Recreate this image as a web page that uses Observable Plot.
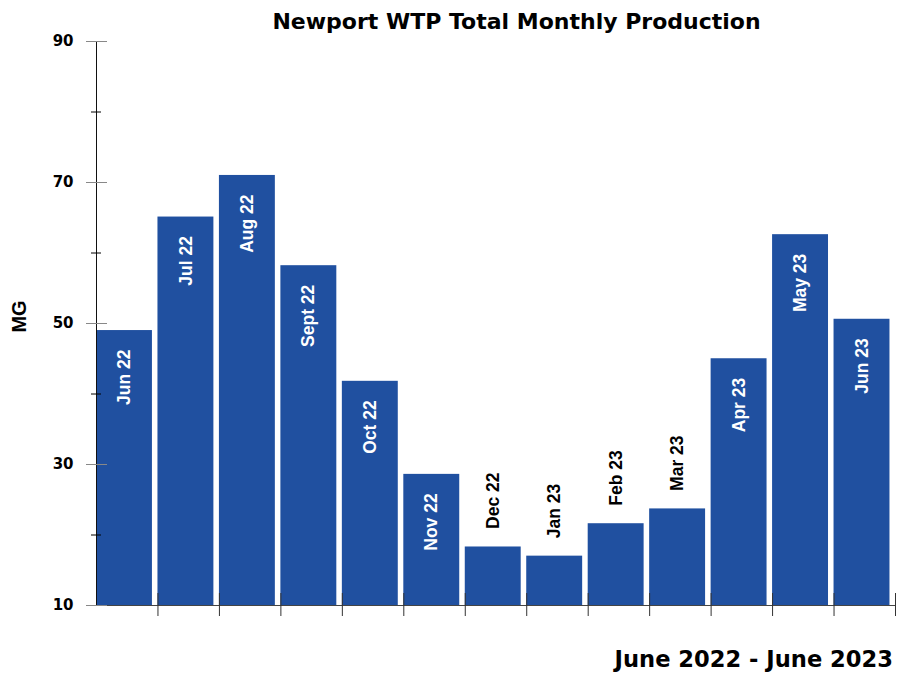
<!DOCTYPE html>
<html>
<head>
<meta charset="utf-8">
<script src="https://cdn.jsdelivr.net/npm/d3@7"></script>
<script src="https://cdn.jsdelivr.net/npm/@observablehq/plot@0.6"></script>
<style>
  body { margin: 0; background: #fff; width: 913px; height: 673px; overflow: hidden; }
  #title { height: 34px; box-sizing: border-box; padding-top: 11px; padding-left: 120px;
           font: bold 22px/22px "DejaVu Sans"; text-align: center; color: #000; white-space: nowrap; }
  #chart svg { display: block; }
  #footer { height: 43px; box-sizing: border-box; padding-top: 18px; padding-right: 20px;
            font: bold 22.6px/23px "DejaVu Sans"; text-align: right; color: #000; white-space: nowrap; }
</style>
</head>
<body>
<div id="title">Newport WTP Total Monthly Production</div>
<div id="chart"></div>
<div id="footer">June 2022 - June 2023</div>
<script>
const months = ["Jun 22","Jul 22","Aug 22","Sept 22","Oct 22","Nov 22","Dec 22","Jan 23","Feb 23","Mar 23","Apr 23","May 23","Jun 23"];
const production = [49.0, 65.1, 71.0, 58.2, 41.8, 28.6, 18.3, 17.0, 21.6, 23.7, 45.0, 62.6, 50.6];
const yDomain = [10, 90];
const majorTicks = [10, 30, 50, 70, 90];
const minorTicks = [20, 40, 60, 80];
const yLabel = "MG";
const barColor = "#2050a0";

const data = months.map((m, i) => ({month: m, value: production[i]}));

const W = 913, H = 596, ML = 96, MR = 18, MT = 7, MB = 25;
const pad = 0.09;
const step = (W - ML - MR) / months.length;
const bw = step * (1 - pad);

const plot = Plot.plot({
  width: W, height: H,
  marginLeft: ML, marginRight: MR, marginTop: MT, marginBottom: MB,
  style: {background: "white", overflow: "visible", fontFamily: "DejaVu Sans"},
  x: {domain: months, paddingInner: pad, paddingOuter: pad / 2, align: 0, round: false, axis: null},
  y: {domain: yDomain, axis: null},
  marks: [
    Plot.barY(data, {x: "month", y1: () => yDomain[0], y2: "value", fill: barColor}),
    Plot.frame({anchor: "left", stroke: "#111"}),
    Plot.frame({anchor: "bottom", stroke: "#444"}),
    Plot.ruleX(months, {x: d => d, y1: () => yDomain[0], y2: () => yDomain[0],
      insetTop: -12, insetBottom: -11, dx: step - bw / 2, stroke: "#333"}),
    Plot.axisY(majorTicks, {tickSize: 21, dx: 11, stroke: "#888", tickFormat: () => "", label: null}),
    Plot.axisY(minorTicks, {tickSize: 10, dx: 5, stroke: "#000", tickFormat: () => "", label: null}),
    Plot.axisY(majorTicks, {tickSize: 0, tickPadding: 23, fontSize: 15, fontWeight: "bold",
      fill: "#000", label: null, fontFamily: "DejaVu Sans"}),
    Plot.text(data.filter(d => d.value >= 25), {x: "month", y: "value", text: "month",
      rotate: -90, textAnchor: "end", lineAnchor: "middle", dy: 19,
      fill: "white", fontSize: 17.5, fontWeight: "bold", fontFamily: "Liberation Sans"}),
    Plot.text(data.filter(d => d.value < 25), {x: "month", y: "value", text: "month",
      rotate: -90, textAnchor: "start", lineAnchor: "middle", dy: -18,
      fill: "black", fontSize: 17.5, fontWeight: "bold", fontFamily: "Liberation Sans"}),
    Plot.text([yLabel], {frameAnchor: "left", dx: -77, dy: -7, rotate: -90,
      textAnchor: "middle", lineAnchor: "middle",
      fontSize: 20, fontWeight: 900, fontFamily: "Liberation Sans", fill: "#000"})
  ]
});
document.getElementById("chart").appendChild(plot);
</script>
</body>
</html>
